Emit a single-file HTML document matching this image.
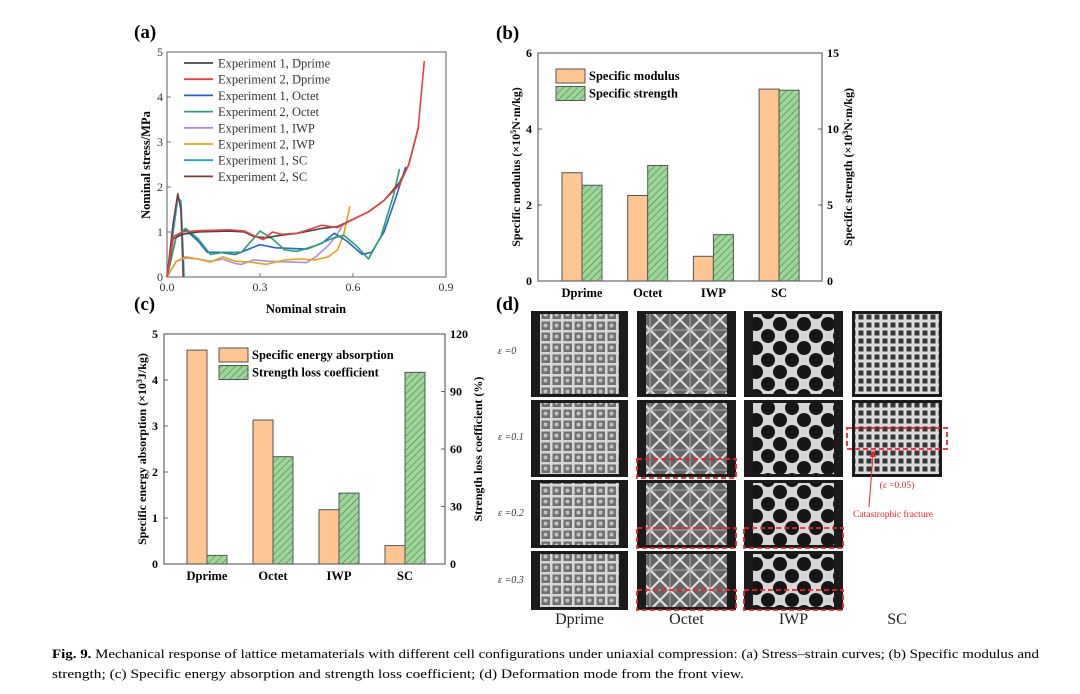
<!DOCTYPE html>
<html><head><meta charset="utf-8"><style>
html,body{margin:0;padding:0;background:#fff;width:1080px;height:694px;overflow:hidden}
svg text{font-family:"Liberation Serif",serif}
.b{font-weight:bold}
</style></head><body>
<svg id="fig" width="1080" height="694" viewBox="0 0 1080 694" xmlns="http://www.w3.org/2000/svg">
<defs>
<pattern id="hatch" patternUnits="userSpaceOnUse" width="5" height="5" patternTransform="rotate(45)">
<rect width="5" height="5" fill="#9fd49a"/><line x1="0" y1="0" x2="0" y2="5" stroke="#3f8f45" stroke-width="1.3"/></pattern>
<pattern id="pD" patternUnits="userSpaceOnUse" width="11" height="11">
<rect width="11" height="11" fill="#7a7a7a"/><rect x="0" y="0" width="11" height="2.5" fill="#ececec"/><rect x="0" y="0" width="2.5" height="11" fill="#ececec"/><circle cx="6.5" cy="6.5" r="2" fill="#d5d5d5"/></pattern>
<pattern id="pO" patternUnits="userSpaceOnUse" width="20" height="20">
<rect width="20" height="20" fill="#6e6e6e"/><path d="M0 0L20 20M20 0L0 20" stroke="#f2f2f2" stroke-width="2.2"/><path d="M10 0V20M0 10H20" stroke="#bdbdbd" stroke-width="1"/></pattern>
<pattern id="pI" patternUnits="userSpaceOnUse" width="24" height="24">
<rect width="24" height="24" fill="#ececec"/><circle cx="0" cy="0" r="7" fill="#151515"/><circle cx="24" cy="0" r="7" fill="#151515"/><circle cx="0" cy="24" r="7" fill="#151515"/><circle cx="24" cy="24" r="7" fill="#151515"/><circle cx="12" cy="12" r="7" fill="#151515"/></pattern>
<pattern id="pS" patternUnits="userSpaceOnUse" width="8" height="8">
<rect width="8" height="8" fill="#f0f0f0"/><rect x="2.5" y="2.5" width="5" height="5" fill="#3a3a3a"/></pattern>
</defs>
<g id="pa"></g>
<g id="pb"></g>
<g id="pc"></g>
<g id="pd"></g>
<g font-size="13">
<text x="52" y="658" textLength="987" lengthAdjust="spacingAndGlyphs"><tspan font-weight="bold">Fig. 9.</tspan> Mechanical response of lattice metamaterials with different cell configurations under uniaxial compression: (a) Stress–strain curves; (b) Specific modulus and</text>
<text x="52" y="678" textLength="692" lengthAdjust="spacingAndGlyphs">strength; (c) Specific energy absorption and strength loss coefficient; (d) Deformation mode from the front view.</text>
</g>
</svg>
<script>
// ---------- data ----------
const seriesNames=["Experiment 1, Dprime","Experiment 2, Dprime","Experiment 1, Octet","Experiment 2, Octet","Experiment 1, IWP","Experiment 2, IWP","Experiment 1, SC","Experiment 2, SC"];
const seriesColors=["#444444","#e8413f","#2266cc","#2aa071","#b18ae6","#e6a214","#1aa6c0","#7a3b3b"];
const strainD1=[0,0.02,0.05,0.1,0.2,0.25,0.28,0.32,0.36,0.42,0.5,0.55,0.6,0.65,0.7,0.75,0.78,0.81];
const stressD1=[0,0.85,0.95,1.0,1.02,1.0,0.9,0.87,0.92,0.97,1.08,1.12,1.28,1.45,1.7,2.1,2.5,3.3];
const strainD2=[0,0.02,0.05,0.1,0.2,0.25,0.28,0.31,0.34,0.37,0.42,0.5,0.55,0.6,0.65,0.7,0.75,0.78,0.81,0.83];
const stressD2=[0,0.9,1.0,1.03,1.05,1.02,0.92,0.83,1.0,0.95,0.97,1.15,1.1,1.28,1.45,1.7,2.05,2.5,3.3,4.8];
const strainO1=[0,0.03,0.06,0.1,0.13,0.17,0.22,0.3,0.35,0.45,0.5,0.54,0.58,0.63,0.66,0.7,0.74,0.77];
const stressO1=[0,0.9,1.05,0.8,0.55,0.55,0.5,0.72,0.65,0.62,0.75,0.97,0.8,0.5,0.55,1.0,1.8,2.45];
const strainO2=[0,0.03,0.06,0.1,0.14,0.18,0.24,0.3,0.34,0.38,0.42,0.48,0.53,0.57,0.61,0.65,0.69,0.73,0.75];
const stressO2=[0,0.9,1.08,0.85,0.5,0.55,0.55,1.02,0.85,0.6,0.57,0.7,0.85,0.93,0.7,0.4,0.9,1.8,2.4];
const strainI1=[0,0.03,0.06,0.1,0.14,0.18,0.22,0.24,0.28,0.33,0.4,0.45,0.48,0.52,0.55,0.57];
const stressI1=[0,0.35,0.42,0.4,0.35,0.4,0.3,0.28,0.38,0.35,0.33,0.32,0.45,0.7,0.95,1.2];
const strainI2=[0,0.03,0.06,0.1,0.14,0.18,0.22,0.27,0.32,0.38,0.43,0.48,0.52,0.55,0.57,0.59];
const stressI2=[0,0.35,0.45,0.4,0.33,0.45,0.35,0.33,0.28,0.38,0.4,0.38,0.45,0.6,0.95,1.57];
const strainS1=[0,0.02,0.035,0.045,0.05,0.055];
const stressS1=[0,1.0,1.75,1.7,0.9,0];
const strainS2=[0,0.02,0.035,0.045,0.05,0.052];
const stressS2=[0,1.2,1.85,1.5,0.5,0];
const aXTicks=["0.0","0.3","0.6","0.9"];
const aYTicks=["0","1","2","3","4","5"];
const categories=["Dprime","Octet","IWP","SC"];
const modulus=[2.85,2.25,0.65,5.05];
const strength=[6.3,7.6,3.05,12.55];
const bLeftTicks=["0","2","4","6"];
const bRightTicks=["0","5","10","15"];
const energy=[4.65,3.13,1.18,0.4];
const lossCoef=[4.5,56,37,100];
const cLeftTicks=["0","1","2","3","4","5"];
const cRightTicks=["0","30","60","90","120"];

const NS="http://www.w3.org/2000/svg";
function mk(parent,tag,attrs,txt){const e=document.createElementNS(NS,tag);for(const k in attrs)e.setAttribute(k,attrs[k]);if(txt!==undefined)e.textContent=txt;parent.appendChild(e);return e;}

// ---------- panel a ----------
(function(){
const g=document.getElementById('pa');
const X0=167,X1=446,Y0=277,Y1=52;
const sx=v=>X0+(v/0.9)*(X1-X0), sy=v=>Y0-(v/5)*(Y0-Y1);
const t=mk(g,'text',{x:134,y:38,'font-size':19,'class':'b'},'(a)');

const box=mk(g,'rect',{x:X0,y:Y1,width:X1-X0,height:Y0-Y1,fill:'none',stroke:'#777','stroke-width':1.2});

aXTicks.forEach(s=>{const v=+s;const x=sx(v);mk(g,'line',{x1:x,x2:x,y1:Y0,y2:Y0-4,stroke:'#777'});
 const l=mk(g,'text',{x:x,y:Y0+14,'font-size':12,'text-anchor':'middle',fill:'#333'},s);
 });
aYTicks.forEach(s=>{const v=+s;const y=sy(v);mk(g,'line',{x1:X0,x2:X0+4,y1:y,y2:y,stroke:'#777'});
 const l=mk(g,'text',{x:X0-4,y:y+4,'font-size':12,'text-anchor':'end',fill:'#333'},s);
 });
const xt=mk(g,'text',{x:306,y:313,'font-size':12.5,'text-anchor':'middle','class':'b'},'Nominal strain');

const yt=mk(g,'text',{x:0,y:0,'font-size':12.5,'text-anchor':'middle','class':'b',transform:'translate(150,165) rotate(-90)'},'Nominal stress/MPa');

const xs=[strainD1,strainD2,strainO1,strainO2,strainI1,strainI2,strainS1,strainS2];
const ys=[stressD1,stressD2,stressO1,stressO2,stressI1,stressI2,stressS1,stressS2];
const order=[6,7,4,5,2,3,0,1];
order.forEach(i=>{const pts=xs[i].map((v,j)=>sx(v).toFixed(1)+','+sy(ys[i][j]).toFixed(1)).join(' ');
 const p=mk(g,'polyline',{points:pts,fill:'none',stroke:seriesColors[i],'stroke-width':1.6,'stroke-linejoin':'round'});
 });
seriesNames.forEach((n,i)=>{const y=63+i*16.2;const lg=mk(g,'g',{});
 
 mk(lg,'line',{x1:184,x2:213,y1:y,y2:y,stroke:seriesColors[i],'stroke-width':1.8});
 mk(lg,'text',{x:218,y:y+4.5,'font-size':12.5,fill:'#333'},n);});
})();

// ---------- bar panel helper ----------
function barPanel(id,o){
const g=document.getElementById(id);
const sl=v=>o.Y0-(v/o.lmax)*(o.Y0-o.Y1), sr=v=>o.Y0-(v/o.rmax)*(o.Y0-o.Y1);
const t=mk(g,'text',{x:o.lx,y:o.ly,'font-size':19,'class':'b'},o.label);

categories.forEach((c,i)=>{const cx=o.c0+o.step*i;
 const r1=mk(g,'rect',{x:cx-20,y:sl(o.left[i]),width:20,height:o.Y0-sl(o.left[i]),fill:'#fdc591',stroke:'#555','stroke-width':1});
 
 const r2=mk(g,'rect',{x:cx,y:sr(o.right[i]),width:20,height:o.Y0-sr(o.right[i]),fill:'url(#hatch)',stroke:'#555','stroke-width':1});
 
 const l=mk(g,'text',{x:cx,y:o.Y0+16,'font-size':12.5,'text-anchor':'middle','class':'b'},c);
 });
const box=mk(g,'rect',{x:o.X0,y:o.Y1,width:o.X1-o.X0,height:o.Y0-o.Y1,fill:'none',stroke:'#666','stroke-width':1.2});

o.lt.forEach(s=>{const y=sl(+s);mk(g,'line',{x1:o.X0,x2:o.X0+4,y1:y,y2:y,stroke:'#666'});
 const l=mk(g,'text',{x:o.X0-6,y:y+4,'font-size':12,'text-anchor':'end','class':'b'},s);
 });
o.rt.forEach(s=>{const y=sr(+s);mk(g,'line',{x1:o.X1,x2:o.X1-4,y1:y,y2:y,stroke:'#666'});
 const l=mk(g,'text',{x:o.X1+5,y:y+4,'font-size':12,'class':'b'},s);
 });
const cy=(o.Y0+o.Y1)/2;
const a1=mk(g,'text',{x:0,y:0,'font-size':12,'text-anchor':'middle','class':'b',transform:`translate(${o.ylx},${cy}) rotate(-90)`});
a1.innerHTML=o.ytl;
const a2=mk(g,'text',{x:0,y:0,'font-size':12,'text-anchor':'middle','class':'b',transform:`translate(${o.yrx},${cy}) rotate(-90)`});
a2.innerHTML=o.ytr;
[[o.leg[0],'#fdc591'],[o.leg[1],'url(#hatch)']].forEach((e,i)=>{const y=o.legy+i*17.5;
 const lg=mk(g,'g',{});
 mk(lg,'rect',{x:o.legx,y:y,width:29,height:14,fill:e[1],stroke:'#555'});
 mk(lg,'text',{x:o.legx+33,y:y+11,'font-size':12.5,'class':'b'},e[0]);});
}
barPanel('pb',{X0:538,X1:822,Y0:281,Y1:53,c0:582,step:65.7,lmax:6,rmax:15,left:modulus,right:strength,lt:bLeftTicks,rt:bRightTicks,
 label:'(b)',lx:496,ly:39,ylx:520,yrx:852,
 ytl:'Specific modulus (×10<tspan dy="-4" font-size="8">5</tspan><tspan dy="4">N·m/kg)</tspan>',
 ytr:'Specific strength (×10<tspan dy="-4" font-size="8">3</tspan><tspan dy="4">N·m/kg)</tspan>',
 leg:['Specific modulus','Specific strength'],legx:556,legy:69});
barPanel('pc',{X0:164,X1:445,Y0:564,Y1:334,c0:207,step:66,lmax:5,rmax:120,left:energy,right:lossCoef,lt:cLeftTicks,rt:cRightTicks,
 label:'(c)',lx:134,ly:310,ylx:146,yrx:482,
 ytl:'Specific energy absorption (×10<tspan dy="-4" font-size="8">3</tspan><tspan dy="4">J/kg)</tspan>',
 ytr:'Strength loss coefficient (%)',
 leg:['Specific energy absorption','Strength loss coefficient'],legx:219,legy:348});

// ---------- panel d ----------
(function(){
const g=document.getElementById('pd');
const t=mk(g,'text',{x:496,y:310,'font-size':19,'class':'b'},'(d)');

const cols=[[531,628,'pD','Dprime'],[637,736,'pO','Octet'],[744,843,'pI','IWP'],[852,942,'pS','SC']];
const rows=[[311,397,'ε =0',354],[400,477,'ε =0.1',440],[480,548,'ε =0.2',516],[551,610,'ε =0.3',583]];
rows.forEach(r=>{const l=mk(g,'text',{x:498,y:r[3],'font-size':10,'font-style':'italic',fill:'#333'},r[2]);
 });
cols.forEach((c,ci)=>{
 const nr=ci===3?2:4;
 for(let ri=0;ri<nr;ri++){const r=rows[ri];
  const cell=mk(g,'g',{});
  mk(cell,'rect',{x:c[0],y:r[0],width:c[1]-c[0],height:r[1]-r[0],fill:'#1b1b1b'});
  const m=ci===3?3:9;
  mk(cell,'rect',{x:c[0]+m,y:r[0]+3,width:c[1]-c[0]-2*m,height:r[1]-r[0]-6,fill:'url(#'+c[2]+')',opacity:0.9});}
 const l=mk(g,'text',{x:(c[0]+c[1])/2,y:624,'font-size':16,'text-anchor':'middle',fill:'#222'},c[3]);
 });
const boxes=[[637,459,736,478],[637,528,736,548],[744,528,843,548],[637,590,736,610],[744,590,843,610],[847,428,947,449]];
boxes.forEach(b=>{const r=mk(g,'rect',{x:b[0],y:b[1],width:b[2]-b[0],height:b[3]-b[1],fill:'none',stroke:'#e8262a','stroke-width':1.8,'stroke-dasharray':'5,3'});
 });
const a=mk(g,'text',{x:897,y:488,'font-size':9.5,'text-anchor':'middle',fill:'#e8262a'},'(ε =0.05)');

const b=mk(g,'text',{x:893,y:517,'font-size':9.5,'text-anchor':'middle',fill:'#e8262a'},'Catastrophic fracture');

mk(g,'line',{x1:869,y1:507,x2:873,y2:455,stroke:'#e8262a','stroke-width':1});
mk(g,'path',{d:'M873 450 L870 457 L876 457 Z',fill:'#e8262a'});
})();
</script>
</body></html>
